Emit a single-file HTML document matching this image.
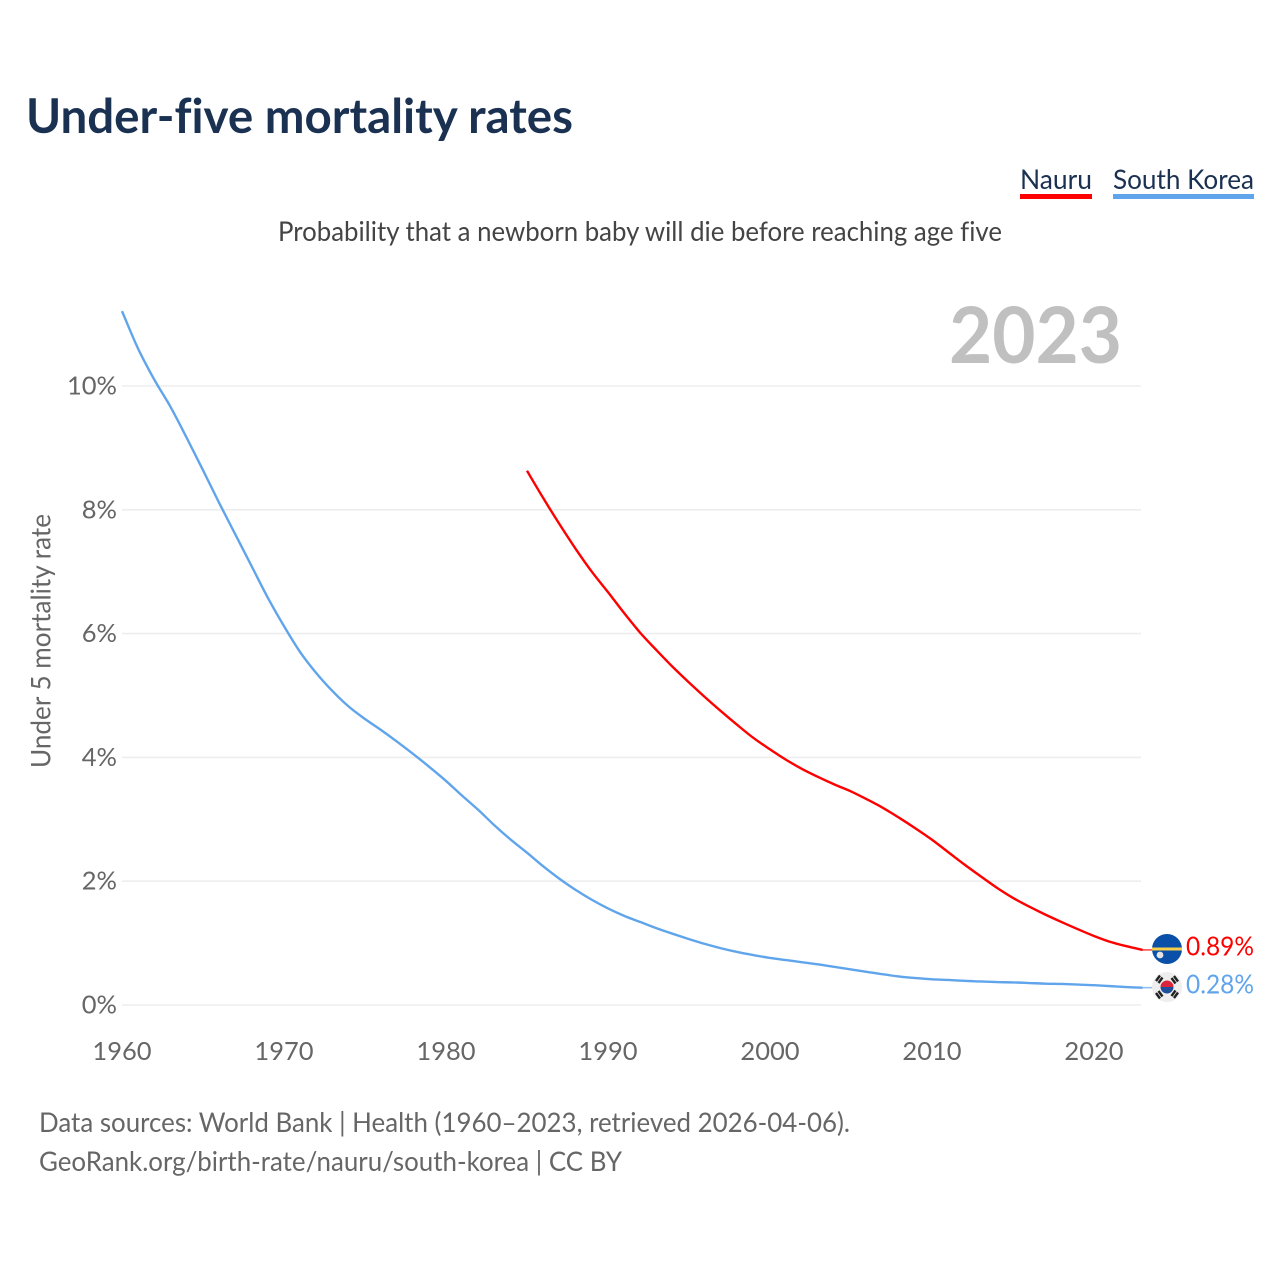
<!DOCTYPE html>
<html lang="en">
<head>
<meta charset="utf-8">
<title>Under-five mortality rates</title>
<style>
html,body{margin:0;padding:0;background:#fff;width:1280px;height:1280px;overflow:hidden}
svg{display:block}
text{font-family:"Lato","Carlito","Liberation Sans",sans-serif;font-variant-ligatures:none}
</style>
</head>
<body>
<svg id="chart" xmlns="http://www.w3.org/2000/svg" width="1280" height="1280" viewBox="0 0 1280 1280">
  <rect width="1280" height="1280" fill="#fff"/>
  <text x="26" y="133" font-size="48" font-weight="700" fill="#1a3152" textLength="547" lengthAdjust="spacingAndGlyphs">Under-five mortality rates</text>
  <g>
    <text x="1020" y="189" font-size="27.500" fill="#1a3152" textLength="72" lengthAdjust="spacingAndGlyphs">Nauru</text>
    <rect x="1020" y="194" width="72" height="5" fill="#ff0000"/>
  </g>
  <g>
    <text x="1113" y="189" font-size="27.500" fill="#1a3152" textLength="141" lengthAdjust="spacingAndGlyphs">South Korea</text>
    <rect x="1113" y="194" width="141" height="5" fill="#60a5ec"/>
  </g>
  <text x="278" y="241" font-size="27.500" fill="#444" textLength="724" lengthAdjust="spacingAndGlyphs">Probability that a newborn baby will die before reaching age five</text>
  <text x="949" y="363" font-size="78" font-weight="700" fill="#c0c0c0" textLength="173" lengthAdjust="spacingAndGlyphs">2023</text>
  <g id="y-grid"></g>
  <g id="y-labels"></g>
  <g id="x-labels"></g>
  <text transform="translate(50.500,768) rotate(-90)" font-size="27" fill="#666" textLength="254" lengthAdjust="spacingAndGlyphs">Under 5 mortality rate</text>
  <g id="series"></g>

  <g>
    <circle cx="1167" cy="949" r="15" fill="#0a4fa8"/>
    <rect x="1152" y="947.500" width="30" height="3" fill="#f7cf4a"/>
    <circle cx="1160" cy="955" r="3.400" fill="#e4e4e4"/>
  </g>
  <g>
    <circle cx="1167" cy="987" r="15" fill="#eeeeee"/>
    <path d="M1160.500 987a6.500 6.500 0 0 1 13 0z" fill="#d9243c"/>
    <path d="M1160.500 987a6.500 6.500 0 0 0 13 0z" fill="#1f4e9c"/>
    <g stroke="#222" stroke-width="2.400" fill="none">
      <path d="M1156 981l4-5.500M1158.500 983l4-5.500"/>
      <path d="M1174 976l4 5.500M1171.500 978l4 5.500"/>
      <path d="M1156 993l4 5.500M1158.500 991l4 5.500"/>
      <path d="M1174 998l4-5.500M1171.500 996l4-5.500"/>
    </g>
  </g>
  <text x="1186" y="955.500" font-size="26.500" fill="#ff0000" textLength="68" lengthAdjust="spacingAndGlyphs">0.89%</text>
  <text x="1186" y="993.500" font-size="26.500" fill="#60a5ec" textLength="68" lengthAdjust="spacingAndGlyphs">0.28%</text>

  <text x="39" y="1132" font-size="27.500" fill="#666" textLength="811" lengthAdjust="spacingAndGlyphs">Data sources: World Bank | Health (1960–2023, retrieved 2026-04-06).</text>
  <text x="39" y="1171" font-size="27.500" fill="#666" textLength="583" lengthAdjust="spacingAndGlyphs">GeoRank.org/birth-rate/nauru/south-korea | CC BY</text>
</svg>
<script>
const yTicks = [0, 2, 4, 6, 8, 10];
const xTicks = [1960, 1970, 1980, 1990, 2000, 2010, 2020];
const koreaStartYear = 1960;
const koreaValues = [11.21, 10.6, 10.1, 9.66, 9.16, 8.64, 8.11, 7.6, 7.09, 6.58,
  6.12, 5.7, 5.36, 5.07, 4.82, 4.62, 4.44, 4.25, 4.05, 3.84,
  3.62, 3.38, 3.15, 2.9, 2.67, 2.46, 2.24, 2.04, 1.86, 1.7,
  1.56, 1.44, 1.34, 1.24, 1.15, 1.065, 0.985, 0.915, 0.855, 0.805,
  0.76, 0.725, 0.69, 0.655, 0.615, 0.575, 0.535, 0.495, 0.46, 0.435,
  0.415, 0.405, 0.39, 0.38, 0.37, 0.365, 0.355, 0.345, 0.34, 0.33,
  0.32, 0.305, 0.29, 0.28];
const nauruStartYear = 1985;
const nauruValues = [8.63, 8.19, 7.77, 7.37, 7.0, 6.67, 6.33, 6.01, 5.73, 5.46,
  5.21, 4.97, 4.74, 4.52, 4.31, 4.13, 3.96, 3.81, 3.68, 3.56,
  3.45, 3.32, 3.18, 3.02, 2.85, 2.67, 2.47, 2.27, 2.08, 1.895,
  1.73, 1.59, 1.46, 1.34, 1.225, 1.115, 1.02, 0.95, 0.89];

const NS = 'http://www.w3.org/2000/svg';
const xScale = year => 122 + (year - 1960) * 16.2;
const yScale = value => 1005 - value * 61.9;
const axisRight = xScale(2023);

function make(tag, attrs, parent, txt) {
  const el = document.createElementNS(NS, tag);
  for (const k in attrs) el.setAttribute(k, attrs[k]);
  if (txt !== undefined) el.textContent = txt;
  parent.appendChild(el);
  return el;
}

const grid = document.getElementById('y-grid');
const yLabels = document.getElementById('y-labels');
yTicks.forEach(v => {
  const line = make('line', {x1: 122, x2: 1141, y1: yScale(v), y2: yScale(v), stroke: '#eeeeee', 'stroke-width': 1.6}, grid);
  
  
  const t = make('text', {x: 117, y: yScale(v) + 8.5, 'text-anchor': 'end', 'font-size': 25.5, fill: '#666'}, yLabels, v + '%');
  
  
});

const xLabels = document.getElementById('x-labels');
xTicks.forEach(y => {
  const t = make('text', {x: xScale(y), y: 1060, 'text-anchor': 'middle', 'font-size': 25.5, fill: '#666'}, xLabels, String(y));
  
  
});

// Smooth path through the data points (Catmull-Rom to cubic Bezier)
function linePath(start, values) {
  const pts = values.map((v, i) => [xScale(start + i), yScale(v)]);
  let d = 'M' + pts[0][0].toFixed(2) + ' ' + pts[0][1].toFixed(2);
  for (let i = 0; i < pts.length - 1; i++) {
    const p0 = pts[Math.max(i - 1, 0)], p1 = pts[i], p2 = pts[i + 1], p3 = pts[Math.min(i + 2, pts.length - 1)];
    const c1x = p1[0] + (p2[0] - p0[0]) / 6, c1y = p1[1] + (p2[1] - p0[1]) / 6;
    const c2x = p2[0] - (p3[0] - p1[0]) / 6, c2y = p2[1] - (p3[1] - p1[1]) / 6;
    d += 'C' + c1x.toFixed(2) + ' ' + c1y.toFixed(2) + ' ' + c2x.toFixed(2) + ' ' + c2y.toFixed(2) + ' ' + p2[0].toFixed(2) + ' ' + p2[1].toFixed(2);
  }
  return d;
}
const seriesGroup = document.getElementById('series');
const koreaLine = make('path', {d: linePath(koreaStartYear, koreaValues), fill: 'none', stroke: '#60a5ec', 'stroke-width': 2.4, 'stroke-linejoin': 'round'}, seriesGroup);


const nauruLine = make('path', {d: linePath(nauruStartYear, nauruValues), fill: 'none', stroke: '#ff0000', 'stroke-width': 2.4, 'stroke-linejoin': 'round'}, seriesGroup);



const koreaEndY = yScale(koreaValues[koreaValues.length - 1]);
const koreaConnector = make('line', {x1: axisRight, x2: 1153, y1: koreaEndY, y2: koreaEndY, stroke: '#60a5ec', 'stroke-width': 1.6, opacity: 0.7}, seriesGroup);


const nauruEndY = yScale(nauruValues[nauruValues.length - 1]);
const nauruConnector = make('line', {x1: axisRight, x2: 1153, y1: nauruEndY, y2: nauruEndY, stroke: '#ff0000', 'stroke-width': 1.6, opacity: 0.7}, seriesGroup);


</script>
</body>
</html>
